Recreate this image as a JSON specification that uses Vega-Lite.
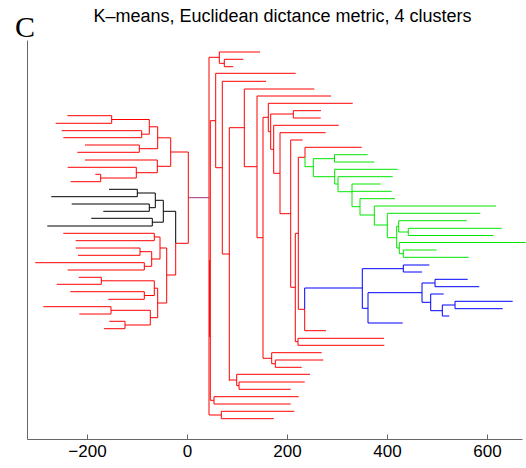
{
  "$schema": "https://vega.github.io/schema/vega-lite/v6.json",
  "width": 495,
  "height": 399,
  "autosize": "none",
  "padding": {"left": 27, "top": 40, "right": 4, "bottom": 29},
  "config": {
    "view": {"stroke": null},
    "axis": {"grid": false}
  },
  "datasets": {
    "links": [
      {"x":44,"x2":64.6,"y":381.7,"y2":381.7,"g":"red"},
      {"x":64.6,"x2":64.6,"y":387,"y2":375.7,"g":"red"},
      {"x":64.6,"x2":146,"y":387,"y2":387,"g":"red"},
      {"x":64.6,"x2":74.6,"y":375.7,"y2":375.7,"g":"red"},
      {"x":74.6,"x2":74.6,"y":379.7,"y2":372.3,"g":"red"},
      {"x":74.6,"x2":112.6,"y":379.7,"y2":379.7,"g":"red"},
      {"x":74.6,"x2":92.6,"y":372.3,"y2":372.3,"g":"red"},
      {"x":44,"x2":44,"y":381.7,"y2":24,"g":"red"},
      {"x":46.6,"x2":46.6,"y":318.3,"y2":38.7,"g":"red"},
      {"x":45.3,"x2":45.3,"y":179,"y2":102,"g":"red"},
      {"x":46.6,"x2":57.4,"y":318.3,"y2":318.3,"g":"red"},
      {"x":2.6,"x2":44,"y":241.3,"y2":241.3,"g":"link"},
      {"x":57.4,"x2":57.4,"y":365.7,"y2":271.3,"g":"red"},
      {"x":57.4,"x2":217.4,"y":365.7,"y2":365.7,"g":"red"},
      {"x":57.4,"x2":70.6,"y":271.3,"y2":271.3,"g":"red"},
      {"x":70.6,"x2":70.6,"y":357.7,"y2":185,"g":"red"},
      {"x":70.6,"x2":158,"y":357.7,"y2":357.7,"g":"red"},
      {"x":70.6,"x2":84.6,"y":185,"y2":185,"g":"red"},
      {"x":84.6,"x2":84.6,"y":311.3,"y2":58.3,"g":"red"},
      {"x":84.6,"x2":114.6,"y":311.3,"y2":311.3,"g":"red"},
      {"x":84.6,"x2":99.4,"y":59,"y2":59,"g":"red"},
      {"x":99.4,"x2":99.4,"y":64.7,"y2":53.3,"g":"red"},
      {"x":99.4,"x2":246,"y":64.7,"y2":64.7,"g":"red"},
      {"x":99.4,"x2":104,"y":53.3,"y2":53.3,"g":"red"},
      {"x":104,"x2":104,"y":57,"y2":49.7,"g":"red"},
      {"x":104,"x2":235.4,"y":57,"y2":57,"g":"red"},
      {"x":104,"x2":207.4,"y":49.7,"y2":49.7,"g":"red"},
      {"x":114.6,"x2":114.6,"y":350,"y2":272.3,"g":"red"},
      {"x":114.6,"x2":254.6,"y":350,"y2":350,"g":"red"},
      {"x":114.6,"x2":140,"y":272.3,"y2":272.3,"g":"red"},
      {"x":140,"x2":140,"y":343,"y2":201.3,"g":"red"},
      {"x":140,"x2":288,"y":343,"y2":343,"g":"red"},
      {"x":140,"x2":152,"y":201.3,"y2":201.3,"g":"red"},
      {"x":152,"x2":152,"y":321.7,"y2":80.7,"g":"red"},
      {"x":152,"x2":162.6,"y":321.7,"y2":321.7,"g":"red"},
      {"x":152,"x2":169.4,"y":80.7,"y2":80.7,"g":"red"},
      {"x":169.4,"x2":169.4,"y":86.3,"y2":75.3,"g":"red"},
      {"x":169.4,"x2":269.4,"y":86.3,"y2":86.3,"g":"red"},
      {"x":169.4,"x2":176.6,"y":75.3,"y2":75.3,"g":"red"},
      {"x":176.6,"x2":176.6,"y":79,"y2":71.7,"g":"red"},
      {"x":176.6,"x2":272.6,"y":79,"y2":79,"g":"red"},
      {"x":176.6,"x2":229.4,"y":71.7,"y2":71.7,"g":"red"},
      {"x":162.6,"x2":162.6,"y":335.7,"y2":307.3,"g":"red"},
      {"x":162.6,"x2":331.4,"y":335.7,"y2":335.7,"g":"red"},
      {"x":162.6,"x2":167.4,"y":307.3,"y2":307.3,"g":"red"},
      {"x":167.4,"x2":167.4,"y":325,"y2":289.7,"g":"red"},
      {"x":167.4,"x2":212.6,"y":325,"y2":325,"g":"red"},
      {"x":212.6,"x2":212.6,"y":328.3,"y2":321,"g":"red"},
      {"x":212.6,"x2":268,"y":328.3,"y2":328.3,"g":"red"},
      {"x":212.6,"x2":267.4,"y":321,"y2":321,"g":"red"},
      {"x":167.4,"x2":173.4,"y":289.7,"y2":289.7,"g":"red"},
      {"x":173.4,"x2":173.4,"y":313.7,"y2":265.7,"g":"red"},
      {"x":173.4,"x2":303.4,"y":313.7,"y2":313.7,"g":"red"},
      {"x":173.4,"x2":186,"y":265.7,"y2":265.7,"g":"red"},
      {"x":186,"x2":186,"y":306.3,"y2":225.3,"g":"red"},
      {"x":186,"x2":277.4,"y":306.3,"y2":306.3,"g":"red"},
      {"x":186,"x2":207.4,"y":225.3,"y2":225.3,"g":"red"},
      {"x":207.4,"x2":207.4,"y":299,"y2":151.7,"g":"red"},
      {"x":207.4,"x2":231.4,"y":299,"y2":299,"g":"red"},
      {"x":207.4,"x2":216.6,"y":151.7,"y2":151.7,"g":"red"},
      {"x":216.6,"x2":216.6,"y":205.7,"y2":97.3,"g":"red"},
      {"x":216.6,"x2":222.6,"y":205.7,"y2":205.7,"g":"red"},
      {"x":216.6,"x2":222,"y":97.3,"y2":97.3,"g":"red"},
      {"x":222,"x2":222,"y":100.7,"y2":93.7,"g":"red"},
      {"x":222,"x2":394,"y":100.7,"y2":100.7,"g":"red"},
      {"x":222,"x2":394.6,"y":93.7,"y2":93.7,"g":"red"},
      {"x":222.6,"x2":222.6,"y":281.7,"y2":129.7,"g":"red"},
      {"x":222.6,"x2":236,"y":281.7,"y2":281.7,"g":"red"},
      {"x":222.6,"x2":235.4,"y":129.7,"y2":129.7,"g":"red"},
      {"x":235.4,"x2":235.4,"y":151,"y2":129.7,"g":"blue"},
      {"x":235.4,"x2":235.4,"y":129.7,"y2":108.3,"g":"red"},
      {"x":235.4,"x2":278,"y":108.3,"y2":108.3,"g":"red"},
      {"x":235.4,"x2":350.6,"y":151,"y2":151,"g":"blue"},
      {"x":236,"x2":236,"y":291.7,"y2":281.7,"g":"red"},
      {"x":236,"x2":236,"y":281.7,"y2":272.3,"g":"green"},
      {"x":236,"x2":349.4,"y":291.7,"y2":291.7,"g":"red"},
      {"x":236,"x2":252.6,"y":272.3,"y2":272.3,"g":"green"},
      {"x":252.6,"x2":252.6,"y":280.3,"y2":262.3,"g":"green"},
      {"x":252.6,"x2":295,"y":280.3,"y2":280.3,"g":"green"},
      {"x":295,"x2":295,"y":284.3,"y2":277,"g":"green"},
      {"x":295,"x2":361.4,"y":284.3,"y2":284.3,"g":"green"},
      {"x":295,"x2":374.6,"y":277,"y2":277,"g":"green"},
      {"x":252.6,"x2":295.4,"y":262.3,"y2":262.3,"g":"green"},
      {"x":295.4,"x2":295.4,"y":269.7,"y2":255,"g":"green"},
      {"x":295.4,"x2":421.4,"y":269.7,"y2":269.7,"g":"green"},
      {"x":295.4,"x2":302,"y":255,"y2":255,"g":"green"},
      {"x":302,"x2":302,"y":262.3,"y2":247.3,"g":"green"},
      {"x":302,"x2":411.4,"y":262.3,"y2":262.3,"g":"green"},
      {"x":302,"x2":330,"y":247.3,"y2":247.3,"g":"green"},
      {"x":330,"x2":330,"y":255,"y2":232.3,"g":"green"},
      {"x":330,"x2":387.4,"y":255,"y2":255,"g":"green"},
      {"x":330,"x2":409.4,"y":247.7,"y2":247.7,"g":"green"},
      {"x":330,"x2":346,"y":232.3,"y2":232.3,"g":"green"},
      {"x":346,"x2":346,"y":240.3,"y2":224,"g":"green"},
      {"x":346,"x2":416,"y":240.3,"y2":240.3,"g":"green"},
      {"x":346,"x2":374.6,"y":224,"y2":224,"g":"green"},
      {"x":374.6,"x2":374.6,"y":233,"y2":214,"g":"green"},
      {"x":374.6,"x2":618,"y":233,"y2":233,"g":"green"},
      {"x":374.6,"x2":400.6,"y":214,"y2":214,"g":"green"},
      {"x":400.6,"x2":400.6,"y":225.7,"y2":201.3,"g":"green"},
      {"x":400.6,"x2":586.6,"y":225.7,"y2":225.7,"g":"green"},
      {"x":400.6,"x2":419.4,"y":201.3,"y2":201.3,"g":"green"},
      {"x":419.4,"x2":419.4,"y":212.7,"y2":191,"g":"green"},
      {"x":419.4,"x2":423.4,"y":212.7,"y2":212.7,"g":"green"},
      {"x":419.4,"x2":424.6,"y":191,"y2":191,"g":"green"},
      {"x":423.4,"x2":423.4,"y":218.3,"y2":207,"g":"green"},
      {"x":423.4,"x2":559.4,"y":218.3,"y2":218.3,"g":"green"},
      {"x":423.4,"x2":442.6,"y":207,"y2":207,"g":"green"},
      {"x":442.6,"x2":442.6,"y":210.7,"y2":203.5,"g":"green"},
      {"x":442.6,"x2":629.4,"y":210.7,"y2":210.7,"g":"green"},
      {"x":442.6,"x2":612.6,"y":203.5,"y2":203.5,"g":"green"},
      {"x":424.6,"x2":424.6,"y":196.5,"y2":185.3,"g":"green"},
      {"x":424.6,"x2":677.4,"y":196.5,"y2":196.5,"g":"green"},
      {"x":424.6,"x2":432.6,"y":185.3,"y2":185.3,"g":"green"},
      {"x":432.6,"x2":432.6,"y":189,"y2":181.7,"g":"green"},
      {"x":432.6,"x2":499,"y":189,"y2":189,"g":"green"},
      {"x":432.6,"x2":563.4,"y":181.7,"y2":181.7,"g":"green"},
      {"x":350.6,"x2":350.6,"y":170.3,"y2":130.7,"g":"blue"},
      {"x":350.6,"x2":432.6,"y":170.3,"y2":170.3,"g":"blue"},
      {"x":432.6,"x2":432.6,"y":174,"y2":167,"g":"blue"},
      {"x":432.6,"x2":484.6,"y":174,"y2":174,"g":"blue"},
      {"x":432.6,"x2":470,"y":167,"y2":167,"g":"blue"},
      {"x":350.6,"x2":362,"y":130.7,"y2":130.7,"g":"blue"},
      {"x":362,"x2":362,"y":146.3,"y2":116,"g":"blue"},
      {"x":362,"x2":431.4,"y":116,"y2":116,"g":"blue"},
      {"x":362,"x2":470,"y":146.3,"y2":146.3,"g":"blue"},
      {"x":470,"x2":470,"y":156,"y2":136.7,"g":"blue"},
      {"x":470,"x2":496,"y":156,"y2":156,"g":"blue"},
      {"x":496,"x2":496,"y":159.7,"y2":152.3,"g":"blue"},
      {"x":496,"x2":561.4,"y":159.7,"y2":159.7,"g":"blue"},
      {"x":496,"x2":584.6,"y":152.3,"y2":152.3,"g":"blue"},
      {"x":470,"x2":487.4,"y":136.7,"y2":136.7,"g":"blue"},
      {"x":487.4,"x2":487.4,"y":145,"y2":128.3,"g":"blue"},
      {"x":487.4,"x2":513.4,"y":145,"y2":145,"g":"blue"},
      {"x":487.4,"x2":510.6,"y":128.3,"y2":128.3,"g":"blue"},
      {"x":510.6,"x2":510.6,"y":134,"y2":123,"g":"blue"},
      {"x":510.6,"x2":524.6,"y":123,"y2":123,"g":"blue"},
      {"x":510.6,"x2":536,"y":134,"y2":134,"g":"blue"},
      {"x":536,"x2":536,"y":137.7,"y2":130.3,"g":"blue"},
      {"x":536,"x2":651.4,"y":137.7,"y2":137.7,"g":"blue"},
      {"x":536,"x2":631.4,"y":130.3,"y2":130.3,"g":"blue"},
      {"x":54,"x2":54,"y":42.3,"y2":35,"g":"red"},
      {"x":54,"x2":223.4,"y":42.3,"y2":42.3,"g":"red"},
      {"x":54,"x2":207.4,"y":35,"y2":35,"g":"red"},
      {"x":46.6,"x2":54,"y":38.7,"y2":38.7,"g":"red"},
      {"x":68.6,"x2":68.6,"y":27.7,"y2":20.3,"g":"red"},
      {"x":68.6,"x2":214.6,"y":27.7,"y2":27.7,"g":"red"},
      {"x":68.6,"x2":173.4,"y":20.3,"y2":20.3,"g":"red"},
      {"x":44,"x2":68.6,"y":24,"y2":24,"g":"red"},

      {"x":-150.6,"x2":-150.6,"y":323.3,"y2":315.7,"g":"red"},
      {"x":-239.4,"x2":-150.6,"y":323.3,"y2":323.3,"g":"red"},
      {"x":-262.6,"x2":-150.6,"y":315.7,"y2":315.7,"g":"red"},
      {"x":-150.6,"x2":-75.4,"y":319.5,"y2":319.5,"g":"red"},
      {"x":-90.6,"x2":-90.6,"y":308.3,"y2":301.3,"g":"red"},
      {"x":-250.6,"x2":-90.6,"y":308.3,"y2":308.3,"g":"red"},
      {"x":-247.4,"x2":-90.6,"y":301.3,"y2":301.3,"g":"red"},
      {"x":-90.6,"x2":-75.4,"y":304.8,"y2":304.8,"g":"red"},
      {"x":-75.4,"x2":-75.4,"y":319.5,"y2":304.8,"g":"red"},
      {"x":-75.4,"x2":-58.6,"y":312.2,"y2":312.2,"g":"red"},
      {"x":-95.4,"x2":-95.4,"y":294,"y2":286.7,"g":"red"},
      {"x":-204,"x2":-95.4,"y":294,"y2":294,"g":"red"},
      {"x":-219.4,"x2":-95.4,"y":286.7,"y2":286.7,"g":"red"},
      {"x":-95.4,"x2":-58.6,"y":290.3,"y2":290.3,"g":"red"},
      {"x":-58.6,"x2":-58.6,"y":312.2,"y2":290.3,"g":"red"},
      {"x":-58.6,"x2":-32.6,"y":301.2,"y2":301.2,"g":"red"},
      {"x":-172.6,"x2":-172.6,"y":264.7,"y2":257.3,"g":"red"},
      {"x":-183.4,"x2":-172.6,"y":264.7,"y2":264.7,"g":"red"},
      {"x":-232.6,"x2":-172.6,"y":257.3,"y2":257.3,"g":"red"},
      {"x":-172.6,"x2":-101.4,"y":261,"y2":261,"g":"red"},
      {"x":-101.4,"x2":-101.4,"y":271.7,"y2":261,"g":"red"},
      {"x":-238.6,"x2":-101.4,"y":271.7,"y2":271.7,"g":"red"},
      {"x":-101.4,"x2":-59.4,"y":266.3,"y2":266.3,"g":"red"},
      {"x":-59.4,"x2":-59.4,"y":279,"y2":266.3,"g":"red"},
      {"x":-204,"x2":-59.4,"y":279,"y2":279,"g":"red"},
      {"x":-59.4,"x2":-32.6,"y":272.7,"y2":272.7,"g":"red"},
      {"x":-32.6,"x2":-32.6,"y":301.2,"y2":272.7,"g":"red"},
      {"x":-32.6,"x2":2.6,"y":287,"y2":287,"g":"red"},
      {"x":2.6,"x2":2.6,"y":287,"y2":195.7,"g":"red"},

      {"x":-99.4,"x2":-99.4,"y":249.7,"y2":242.3,"g":"black"},
      {"x":-156,"x2":-99.4,"y":249.7,"y2":249.7,"g":"black"},
      {"x":-271.4,"x2":-99.4,"y":242.3,"y2":242.3,"g":"black"},
      {"x":-99.4,"x2":-63.4,"y":246,"y2":246,"g":"black"},
      {"x":-75.4,"x2":-75.4,"y":235,"y2":227.7,"g":"black"},
      {"x":-230.6,"x2":-75.4,"y":235,"y2":235,"g":"black"},
      {"x":-167.4,"x2":-75.4,"y":227.7,"y2":227.7,"g":"black"},
      {"x":-75.4,"x2":-63.4,"y":231.3,"y2":231.3,"g":"black"},
      {"x":-63.4,"x2":-63.4,"y":246,"y2":231.3,"g":"black"},
      {"x":-63.4,"x2":-47.4,"y":238.7,"y2":238.7,"g":"black"},
      {"x":-69.4,"x2":-69.4,"y":220.7,"y2":213,"g":"black"},
      {"x":-191.4,"x2":-69.4,"y":220.7,"y2":220.7,"g":"black"},
      {"x":-279.4,"x2":-69.4,"y":213,"y2":213,"g":"black"},
      {"x":-69.4,"x2":-47.4,"y":216.8,"y2":216.8,"g":"black"},
      {"x":-47.4,"x2":-47.4,"y":238.7,"y2":216.8,"g":"black"},
      {"x":-47.4,"x2":-22.6,"y":227.7,"y2":227.7,"g":"black"},
      {"x":-22.6,"x2":-22.6,"y":227.7,"y2":195.7,"g":"black"},
      {"x":-22.6,"x2":-22.6,"y":195.7,"y2":164,"g":"red"},
      {"x":-22.6,"x2":2.6,"y":195.7,"y2":195.7,"g":"red"},

      {"x":-65.4,"x2":-65.4,"y":205.7,"y2":198.3,"g":"red"},
      {"x":-247.4,"x2":-65.4,"y":205.7,"y2":205.7,"g":"red"},
      {"x":-222.6,"x2":-65.4,"y":198.3,"y2":198.3,"g":"red"},
      {"x":-65.4,"x2":-54,"y":202,"y2":202,"g":"red"},
      {"x":-94,"x2":-94,"y":191,"y2":183.7,"g":"red"},
      {"x":-222.6,"x2":-94,"y":191,"y2":191,"g":"red"},
      {"x":-218,"x2":-94,"y":183.7,"y2":183.7,"g":"red"},
      {"x":-94,"x2":-70.6,"y":187.3,"y2":187.3,"g":"red"},
      {"x":-85.4,"x2":-85.4,"y":176.3,"y2":169,"g":"red"},
      {"x":-303.4,"x2":-85.4,"y":176.3,"y2":176.3,"g":"red"},
      {"x":-238.6,"x2":-85.4,"y":169,"y2":169,"g":"red"},
      {"x":-85.4,"x2":-70.6,"y":172.7,"y2":172.7,"g":"red"},
      {"x":-70.6,"x2":-70.6,"y":187.3,"y2":172.7,"g":"red"},
      {"x":-70.6,"x2":-54,"y":180,"y2":180,"g":"red"},
      {"x":-54,"x2":-54,"y":202,"y2":180,"g":"red"},
      {"x":-54,"x2":-40.6,"y":191,"y2":191,"g":"red"},
      {"x":-171.4,"x2":-171.4,"y":161.7,"y2":154.7,"g":"red"},
      {"x":-216.6,"x2":-171.4,"y":161.7,"y2":161.7,"g":"red"},
      {"x":-260.6,"x2":-171.4,"y":154.7,"y2":154.7,"g":"red"},
      {"x":-171.4,"x2":-65.4,"y":158.2,"y2":158.2,"g":"red"},
      {"x":-85.4,"x2":-85.4,"y":147.3,"y2":139.7,"g":"red"},
      {"x":-233.4,"x2":-85.4,"y":147.3,"y2":147.3,"g":"red"},
      {"x":-157.4,"x2":-85.4,"y":139.7,"y2":139.7,"g":"red"},
      {"x":-85.4,"x2":-65.4,"y":143.5,"y2":143.5,"g":"red"},
      {"x":-65.4,"x2":-65.4,"y":158.2,"y2":143.5,"g":"red"},
      {"x":-65.4,"x2":-58.6,"y":150.8,"y2":150.8,"g":"red"},
      {"x":-152,"x2":-152,"y":132.3,"y2":125,"g":"red"},
      {"x":-287.4,"x2":-152,"y":132.3,"y2":132.3,"g":"red"},
      {"x":-215.4,"x2":-152,"y":125,"y2":125,"g":"red"},
      {"x":-152,"x2":-73.4,"y":128.7,"y2":128.7,"g":"red"},
      {"x":-124,"x2":-124,"y":117.7,"y2":110.3,"g":"red"},
      {"x":-155.4,"x2":-124,"y":117.7,"y2":117.7,"g":"red"},
      {"x":-166,"x2":-124,"y":110.3,"y2":110.3,"g":"red"},
      {"x":-124,"x2":-73.4,"y":114,"y2":114,"g":"red"},
      {"x":-73.4,"x2":-73.4,"y":128.7,"y2":114,"g":"red"},
      {"x":-73.4,"x2":-58.6,"y":121.3,"y2":121.3,"g":"red"},
      {"x":-58.6,"x2":-58.6,"y":150.8,"y2":121.3,"g":"red"},
      {"x":-58.6,"x2":-40.6,"y":136,"y2":136,"g":"red"},
      {"x":-40.6,"x2":-40.6,"y":191,"y2":136,"g":"red"},
      {"x":-40.6,"x2":-22.6,"y":164,"y2":164,"g":"red"}
    ],
    "labels": [
      {"x": -344, "y": 402.3, "label": "C", "kind": "panel"},
      {"x": 191, "y": 417, "label": "K–means, Euclidean dictance metric, 4 clusters", "kind": "title"}
    ]
  },
  "layer": [
    {
      "data": {"name": "links"},
      "mark": {"type": "rule", "strokeWidth": 1},
      "encoding": {
        "x": {
          "field": "x", "type": "quantitative",
          "scale": {"domain": [-320, 670], "nice": false, "zero": false},
          "axis": {
            "title": null,
            "values": [-200, 0, 200, 400, 600],
            "domainColor": "#666666",
            "tickColor": "#666666",
            "tickSize": -5,
            "labelPadding": 9,
            "labelFont": "Liberation Sans",
            "labelFontSize": 17,
            "labelColor": "#000000"
          }
        },
        "x2": {"field": "x2"},
        "y": {
          "field": "y", "type": "quantitative",
          "scale": {"domain": [0, 399], "nice": false, "zero": false},
          "axis": {
            "title": null,
            "ticks": false,
            "labels": false,
            "domainColor": "#666666"
          }
        },
        "y2": {"field": "y2"},
        "color": {
          "field": "g", "type": "nominal", "legend": null,
          "scale": {
            "domain": ["red", "green", "blue", "black", "link"],
            "range": ["#ff0000", "#00e600", "#0000ff", "#000000", "#a0307a"]
          }
        }
      }
    },
    {
      "data": {"name": "labels"},
      "transform": [{"filter": "datum.kind === 'panel'"}],
      "mark": {
        "type": "text",
        "font": "Liberation Serif",
        "fontSize": 30,
        "align": "left",
        "baseline": "alphabetic",
        "color": "#000000"
      },
      "encoding": {
        "x": {"field": "x", "type": "quantitative"},
        "y": {"field": "y", "type": "quantitative"},
        "text": {"field": "label"}
      }
    },
    {
      "data": {"name": "labels"},
      "transform": [{"filter": "datum.kind === 'title'"}],
      "mark": {
        "type": "text",
        "font": "Liberation Sans",
        "fontSize": 18,
        "align": "center",
        "baseline": "alphabetic",
        "color": "#000000"
      },
      "encoding": {
        "x": {"field": "x", "type": "quantitative"},
        "y": {"field": "y", "type": "quantitative"},
        "text": {"field": "label"}
      }
    }
  ]
}
